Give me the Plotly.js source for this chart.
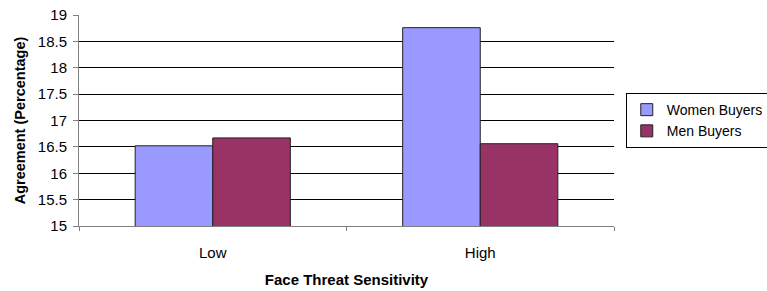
<!DOCTYPE html>
<html>
<head>
<meta charset="utf-8">
<script src="https://cdn.plot.ly/plotly-3.0.1.min.js"></script>
<style>html,body{margin:0;padding:0;background:#fff;}#chart{width:767px;height:291px;}</style>
</head>
<body>
<div id="chart"></div>
<script>
const categories = ["Low", "High"];
const womenBuyers = [16.52, 18.76];
const menBuyers = [16.67, 16.56];
const seriesNames = ["Women Buyers", "Men Buyers"];
const yTicks = [15, 15.5, 16, 16.5, 17, 17.5, 18, 18.5, 19];

const font = "Arial, 'Liberation Sans', sans-serif";
const data = [
  {type: "bar", name: seriesNames[0], x: categories, y: womenBuyers,
   marker: {color: "#9999FF", line: {color: "#222", width: 1}}},
  {type: "bar", name: seriesNames[1], x: categories, y: menBuyers,
   marker: {color: "#993366", line: {color: "#222", width: 1}}}
];
const layout = {
  width: 767, height: 291,
  margin: {l: 79, r: 153, t: 15, b: 65, autoexpand: false},
  paper_bgcolor: "#fff", plot_bgcolor: "#fff",
  font: {family: font, size: 15, color: "#000"},
  barmode: "group", bargap: 0.42, bargroupgap: 0,
  showlegend: true,
  legend: {x: 1.022, y: 0.63, xanchor: "left", yanchor: "top",
    bordercolor: "#000", borderwidth: 1, font: {size: 14, family: font},
    traceorder: "normal", itemwidth: 30, tracegroupgap: 0},
  xaxis: {
    type: "category", tickson: "boundaries", ticks: "outside", ticklen: 4,
    tickcolor: "#808080", showline: true, linecolor: "#808080", linewidth: 1,
    showgrid: false, ticklabelstandoff: 13,
    tickfont: {size: 15, family: font},
    title: {text: "Face Threat Sensitivity", font: {size: 15, family: font, weight: "bold"}, standoff: 14}
  },
  yaxis: {
    range: [15, 19], tickvals: yTicks, ticktext: yTicks.map(String),
    ticks: "outside", ticklen: 5, tickcolor: "#808080",
    showline: true, linecolor: "#808080", linewidth: 1,
    showgrid: true, gridcolor: "#000", gridwidth: 1, zeroline: false,
    ticklabelstandoff: 3,
    tickfont: {size: 15, family: font},
    title: {text: "Agreement (Percentage)", font: {size: 14.5, family: font, weight: "bold"}, standoff: 8}
  }
};
Plotly.newPlot("chart", data, layout, {staticPlot: true, displayModeBar: false});
</script>
</body>
</html>
